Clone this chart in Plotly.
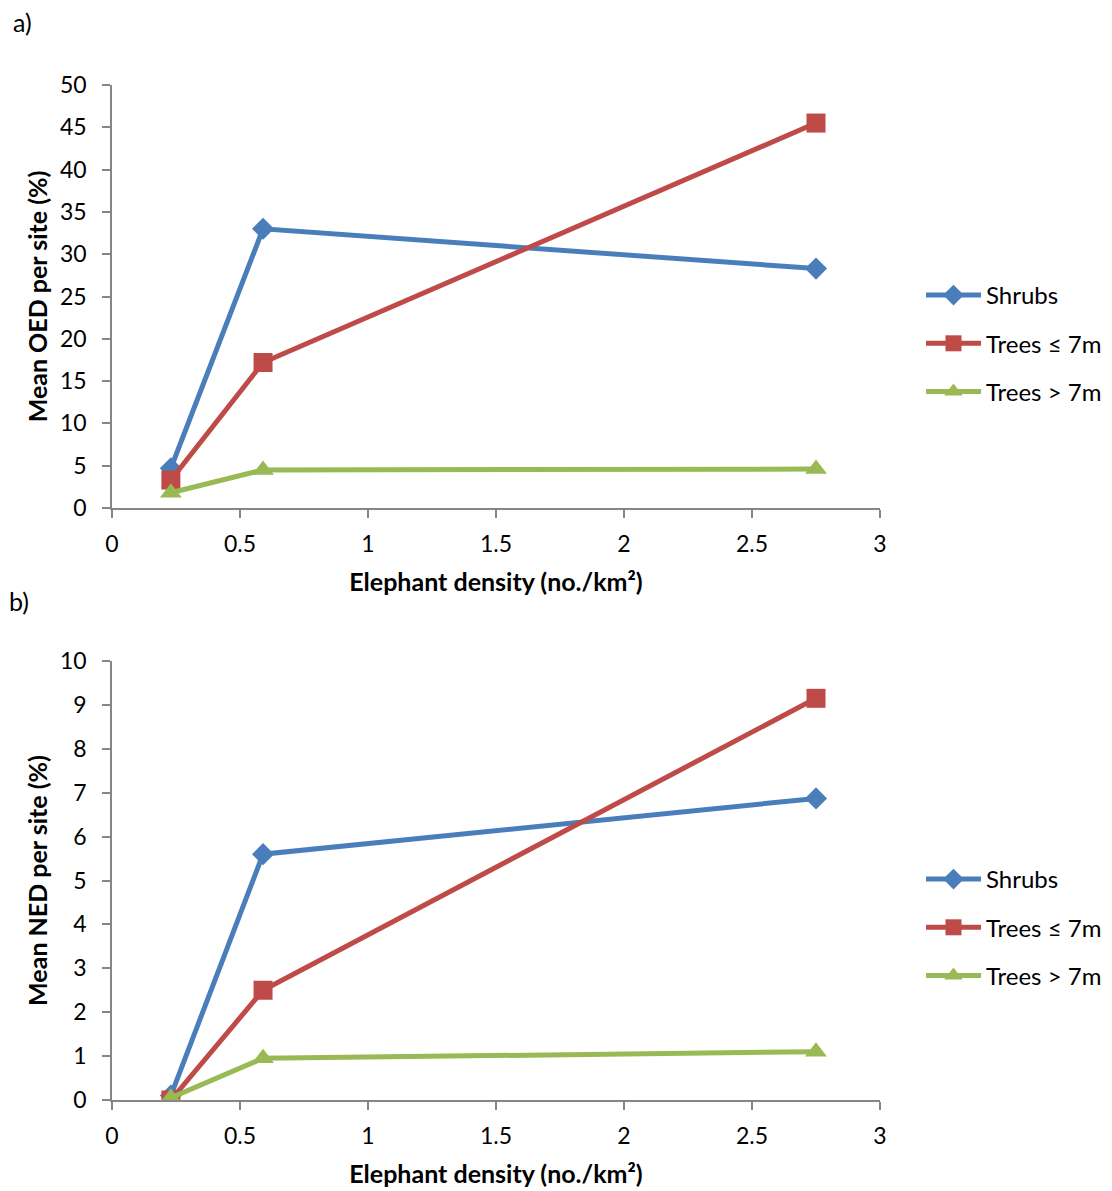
import plotly.graph_objects as go

# Elephant density at each site group (no./km²)
density = [0.23, 0.59, 2.75]

# a) Mean OED per site (%)
oed_shrubs = [4.7, 33.0, 28.3]
oed_trees_small = [3.3, 17.2, 45.5]
oed_trees_large = [1.8, 4.5, 4.6]

# b) Mean NED per site (%)
ned_shrubs = [0.1, 5.6, 6.87]
ned_trees_small = [0.0, 2.5, 9.15]
ned_trees_large = [0.05, 0.95, 1.1]

series_names = ["Shrubs", "Trees ≤ 7m", "Trees > 7m"]
colors = ["#4A7EBB", "#BE4B48", "#98B954"]
symbols = ["diamond", "square", "triangle-up"]
sizes = [17, 19, 19]

FONT = "Lato, Calibri, 'Open Sans', sans-serif"
W, H = 1112, 1191

fig = go.Figure()

panels = [
    ([oed_shrubs, oed_trees_small, oed_trees_large], "x", "y", "legend"),
    ([ned_shrubs, ned_trees_small, ned_trees_large], "x2", "y2", "legend2"),
]
for values, xa, ya, lg in panels:
    for i, (name, vals) in enumerate(zip(series_names, values)):
        fig.add_trace(go.Scatter(
            x=density, y=vals, name=name, mode="lines+markers",
            xaxis=xa, yaxis=ya, legend=lg, legendgroup=f"{lg}-{i}",
            line=dict(color=colors[i], width=5),
            marker=dict(symbol=symbols[i], size=sizes[i], color=colors[i]),
        ))

x_dom = [112 / W, 880 / W]
ya_dom = [1 - 508 / H, 1 - 85 / H]
yb_dom = [1 - 1100 / H, 1 - 661 / H]

axis_common = dict(
    showline=True, linecolor="#868686", linewidth=1.5,
    ticks="outside", ticklen=8, tickcolor="#868686", tickwidth=1.5,
    showgrid=False, zeroline=False, automargin=False,
    tickfont=dict(family=FONT, size=23, color="#000"),
)
x_ticks = dict(ticklabelstandoff=7, **axis_common)
y_ticks = dict(ticklabelstandoff=11, **axis_common)
title_font = dict(family=FONT, size=25, color="#000", weight="bold")
legend_font = dict(family=FONT, size=24, color="#000")

fig.update_layout(
    width=W, height=H,
    margin=dict(l=0, r=0, t=0, b=0, autoexpand=False),
    paper_bgcolor="white", plot_bgcolor="white",
    font=dict(family=FONT, size=23, color="#000"),
    xaxis=dict(domain=x_dom, anchor="y", range=[0, 3], dtick=0.5,
               title=dict(text="Elephant density (no./km²)", font=title_font, standoff=17),
               **x_ticks),
    yaxis=dict(domain=ya_dom, anchor="x", range=[0, 50], dtick=5,
               title=dict(text="Mean OED per site (%)", font=title_font, standoff=5),
               **y_ticks),
    xaxis2=dict(domain=x_dom, anchor="y2", range=[0, 3], dtick=0.5,
                title=dict(text="Elephant density (no./km²)", font=title_font, standoff=17),
                **x_ticks),
    yaxis2=dict(domain=yb_dom, anchor="x2", range=[0, 10], dtick=1,
                title=dict(text="Mean NED per site (%)", font=title_font, standoff=5),
                **y_ticks),
    legend=dict(x=921 / W, y=1 - 273 / H, xanchor="left", yanchor="top",
                tracegroupgap=14, itemwidth=55, font=legend_font,
                bgcolor="rgba(0,0,0,0)"),
    legend2=dict(x=921 / W, y=1 - 857 / H, xanchor="left", yanchor="top",
                 tracegroupgap=14, itemwidth=55, font=legend_font,
                 bgcolor="rgba(0,0,0,0)"),
    annotations=[
        dict(text="a)", x=11 / W, y=1 - 22 / H, xref="paper", yref="paper",
             xanchor="left", yanchor="middle", showarrow=False,
             font=dict(family=FONT, size=25, color="#000")),
        dict(text="b)", x=7 / W, y=1 - 601 / H, xref="paper", yref="paper",
             xanchor="left", yanchor="middle", showarrow=False,
             font=dict(family=FONT, size=25, color="#000")),
    ],
    showlegend=True,
)

fig.write_html("out.html")
